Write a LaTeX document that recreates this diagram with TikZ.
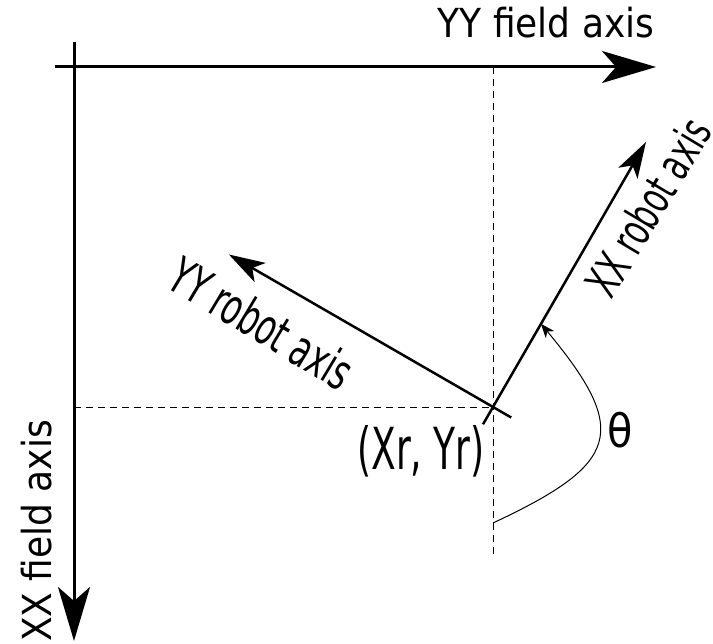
\documentclass[tikz,border=0pt]{standalone}
\usepackage{fontspec}
\setmainfont{DejaVu Sans Condensed}
\usetikzlibrary{arrows.meta,calc}

\begin{document}
\begin{tikzpicture}[x=1pt, y=1pt,
  lbl/.style={font=\fontsize{40}{44}\selectfont, inner sep=0pt},
  tall lbl/.style={font=\fontsize{#1}{#1}\selectfont, inner sep=0pt},
  field axis/.style={line width=3pt, -{Stealth[length=54pt,width=32pt,inset=14pt]}},
  robot axis/.style={line width=2.5pt, -{Stealth[length=36pt,width=22pt,inset=9pt]}},
  guide/.style={line width=0.9pt, dash pattern=on 7pt off 5pt},
  angle arc/.style={line width=1pt, -{Stealth[length=14pt,width=11pt,inset=4pt]}}]
\useasboundingbox (0,0) rectangle (713,644);

% Field frame
\coordinate (yf start) at (55,577);
\coordinate (yf end) at (656,577);
\coordinate (xf start) at (74,602);
\coordinate (xf end) at (74,3);
\draw[field axis] (yf start) -- (yf end);
\draw[field axis] (xf start) -- (xf end);
\node[lbl] (yf label) at (546,621) {YY field axis};
\node[lbl, rotate=90] (xf label) at (37,113) {XX field axis};

% Robot position and guides
\coordinate (robot) at (493,237);
\coordinate (top guide) at (493,577);
\coordinate (low guide) at (493,88);
\coordinate (left guide) at (74,237);
\draw[guide] (top guide) -- (low guide);
\draw[guide] (left guide) -- (robot);
\node[tall lbl=58, xscale=0.69] (pos label) at (421,193) {(Xr, Yr)};

% Robot axes
\coordinate (xr start) at ($(robot)+(240:20)$);
\coordinate (xr end) at ($(robot)+(60:306)$);
\coordinate (yr start) at ($(robot)+(-30:21)$);
\coordinate (yr end) at ($(robot)+(150:305)$);
\draw[robot axis] (xr start) -- (xr end);
\draw[robot axis] (yr start) -- (yr end);
\node[tall lbl=46, rotate=59, xscale=0.72] (xr label) at (648,437) {XX robot axis};
\node[tall lbl=50, rotate=-31, xscale=0.7] (yr label) at (262,321) {YY robot axis};

% Heading angle
\coordinate (arc start) at (493,121);
\coordinate (arc end) at ($(robot)+(60:96)$);
\draw[angle arc] (arc start) .. controls (619,180) and (631,212) .. (arc end);
\node[tall lbl=46] (theta) at (620,214) {θ};

\end{tikzpicture}
\end{document}
